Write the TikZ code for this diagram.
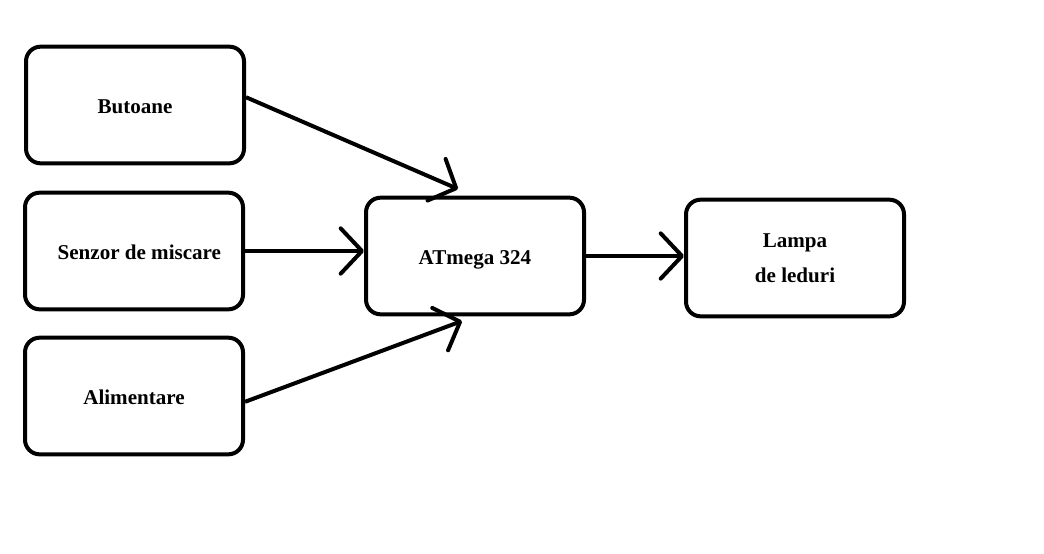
\documentclass[tikz,border=0pt]{standalone}
\usepackage{fontspec}
\setmainfont{Liberation Serif}
\usepackage{tikz}
\usetikzlibrary{positioning, arrows.meta, calc}

\begin{document}
\begin{tikzpicture}[x=0.75pt, y=-0.75pt,
	blok/.style={draw, line width=3pt, rounded corners=11pt, minimum width=163.5pt, minimum height=87.5pt, align=center, font=\fontsize{15.8}{26.3}\selectfont\bfseries},
	unrand/.style={text height=16.5pt, text depth=4pt},
	sageata/.style={line width=3pt, -{Straight Barb[length=16pt, width=34pt, round]}}]
	\useasboundingbox (0,0) rectangle (1044,553);
	% Blocuri
	\node[blok, unrand] (butoane) at (135,105) {Butoane};
	\node[blok, unrand] (senzor) at (134,251) {\hspace*{8pt}Senzor de miscare};
	\node[blok, unrand] (alim) at (134,396) {Alimentare};
	\node[blok, unrand] (atmega) at (475,256) {ATmega 324};
	\node[blok] (lampa) at (795,258) {Lampa\\de leduri};
	\coordinate (intrareSus) at (458,189);
	\coordinate (intrareJos) at (462,321);
	
	% Legaturi
	\draw[sageata] (butoane.4) -- (intrareSus);
	\draw[sageata] (senzor.east) -- (senzor.east -| atmega.west);
	\draw[sageata] (alim.-3) -- (intrareJos);
	\draw[sageata] (atmega.east) -- (atmega.east -| lampa.west);
\end{tikzpicture}
\end{document}
